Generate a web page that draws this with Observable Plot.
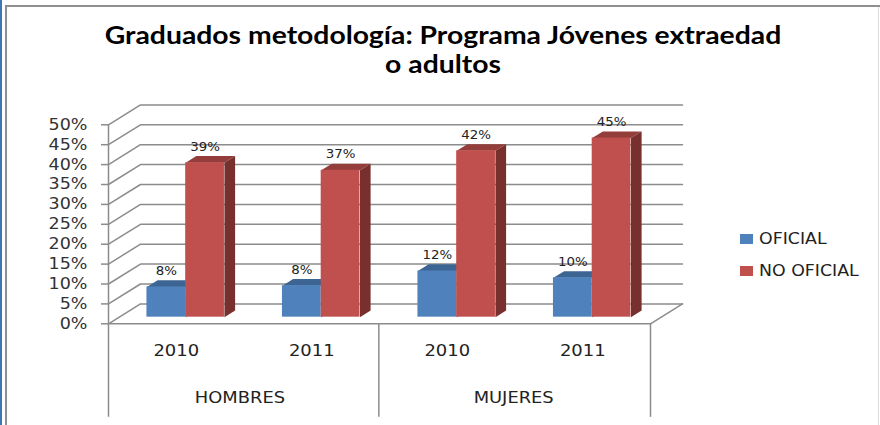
<!DOCTYPE html>
<html lang="es">
<head>
<meta charset="utf-8">
<script src="https://cdn.jsdelivr.net/npm/d3@7"></script>
<script src="https://cdn.jsdelivr.net/npm/@observablehq/plot@0.6"></script>
<style>
  html, body { margin: 0; padding: 0; background: #fff; }
  #page { position: relative; width: 880px; height: 425px; overflow: hidden; background: #fff; }
  #chart { position: absolute; left: 0; top: 0; }
  .edge { position: absolute; }
  #title { position: absolute; left: 0; top: 20px; width: 886px; margin: 0; text-align: center;
           font: 700 24px/29px Lato, sans-serif; color: #000; transform: scaleX(1.18); transform-origin: 443px 0; }
  .leg { position: absolute; left: 740px; display: flex; align-items: center; font: 15.5px "DejaVu Sans", sans-serif; color: #222; }
  .leg i { display: block; width: 13px; height: 10px; margin-right: 6px; }
  .leg span { display: block; transform: scaleX(1.12); transform-origin: 0 50%; white-space: nowrap; }
</style>
</head>
<body>
<div id="page">
  <div class="edge" style="left:0;top:0;width:2px;height:425px;background:#3f77b5"></div>
  <div class="edge" style="left:5px;top:5px;width:2px;height:420px;background:#8f8f8f"></div>
  <div class="edge" style="left:5px;top:5px;width:875px;height:2px;background:#8f8f8f"></div>
  <div class="edge" style="left:878px;top:7px;width:1px;height:418px;background:#dcdcdc"></div>
  <div id="chart"></div>
  <h1 id="title">Graduados metodología: Programa Jóvenes extraedad<br>o adultos</h1>
</div>
<script>
const years = ["2010", "2011", "2010", "2011"];
const groups = ["HOMBRES", "MUJERES"];
const seriesNames = ["OFICIAL", "NO OFICIAL"];
const oficial = [7.6, 7.9, 11.6, 9.9];
const noOficial = [38.8, 36.9, 41.8, 45.0];
const yTicks = [0, 5, 10, 15, 20, 25, 30, 35, 40, 45, 50];

const frontColors = ["#4F81BD", "#C0504D"];
const topColors = ["#3C6594", "#943E3B"];
const sideColors = ["#345880", "#77302E"];

// Oblique projection of the 3-D category chart, in data units
const depthX = 0.236, depthY = 5;
const px = (s, z) => s + z * depthX;
const py = (v, z) => v + z * depthY;
const zFront = 1 / 3, zBack = 2 / 3;
const barStart = 0.205, barW = 0.286;

const fronts = [], faces = [], labels = [];
[oficial, noOficial].forEach((vals, k) => {
  vals.forEach((v, i) => {
    const s0 = i + barStart + k * barW, s1 = s0 + barW;
    const id = `${k}-${i}`;
    fronts.push({k, x1: px(s0, zFront), x2: px(s1, zFront), y1: py(0, zFront), y2: py(v, zFront)});
    [[s0, v, zFront], [s1, v, zFront], [s1, v, zBack], [s0, v, zBack]].forEach(([s, w, z]) =>
      faces.push({id: "t" + id, c: topColors[k], k, x: px(s, z), y: py(w, z)}));
    [[s1, 0, zFront], [s1, v, zFront], [s1, v, zBack], [s1, 0, zBack]].forEach(([s, w, z]) =>
      faces.push({id: "s" + id, c: sideColors[k], k, x: px(s, z), y: py(w, z)}));
    labels.push({x: px((s0 + s1) / 2, zFront), y: py(v, zFront), t: Math.round(v) + "%"});
  });
});

const wallLines = [];
yTicks.forEach(v => {
  wallLines.push({id: "w" + v, x: px(0, 0), y: py(v, 0)}, {id: "w" + v, x: px(0, 1), y: py(v, 1)}, {id: "w" + v, x: px(4, 1), y: py(v, 1)});
});
const floorEdge = [
  {x: px(0, 0), y: py(0, 0)}, {x: px(4, 0), y: py(0, 0)}, {x: px(4, 1), y: py(0, 1)}
];

const grey = "#8c8c8c";
const font = '"DejaVu Sans", sans-serif';
const chart = Plot.plot({
  width: 880, height: 425,
  marginLeft: 108, marginRight: 230, marginTop: 124.3, marginBottom: 101.7,
  style: {background: "transparent", fontFamily: font},
  x: {domain: [0, 4]},
  y: {domain: [0, 50]},
  marks: [
    Plot.line(wallLines, {x: "x", y: "y", z: "id", stroke: grey, strokeWidth: 1.5}),
    Plot.line(floorEdge, {x: "x", y: "y", stroke: grey, strokeWidth: 1.5}),
    Plot.ruleX([0], {y1: -23.5, y2: 50, stroke: grey, strokeWidth: 1.5}),
    Plot.ruleX([1.995, 4], {y1: -23.5, y2: 0, stroke: grey, strokeWidth: 1.5}),
    Plot.axisY({ticks: yTicks, tickFormat: d => d + "%", tickSize: 7, tickPadding: 14, anchor: "left",
      label: null, fontSize: 15.5, stroke: grey, fill: "#333", strokeWidth: 1.5}),
    Plot.axisX({ticks: [0.5, 1.5, 2.5, 3.5], tickFormat: d => years[Math.floor(d)], tickSize: 0, tickPadding: 21,
      anchor: "bottom", label: null, fontSize: 15.5, fill: "#222"}),
    Plot.axisX({ticks: [0.97, 2.99], tickFormat: d => groups[d < 2 ? 0 : 1], tickSize: 0, tickPadding: 69,
      anchor: "bottom", label: null, fontSize: 15, fill: "#222"}),
    ...[0, 1].flatMap(k => [
      Plot.line(faces.filter(f => f.k === k), {x: "x", y: "y", z: "id", fill: "c", stroke: "none"}),
      Plot.rectY(fronts.filter(f => f.k === k), {x1: "x1", x2: "x2", y1: "y1", y2: "y2", fill: frontColors[k], inset: 0})
    ]),
    Plot.text(labels, {x: "x", y: "y", text: "t", dy: -16, fontSize: 12.5, fill: "#222"})
  ]
});
document.getElementById("chart").append(chart);

// The reference's lettering is stretched sideways: widen each label's glyphs to match.
chart.querySelectorAll("text").forEach(t => {
  const parent = t.closest("[aria-label]");
  const kind = parent ? parent.getAttribute("aria-label") : "";
  const s = t.textContent;
  const factor = groups.includes(s) ? 1.19 : kind.startsWith("x-axis") ? 1.16 : kind.startsWith("y-axis") ? 1.13 : 1.07;
  t.setAttribute("textLength", t.getComputedTextLength() * factor);
  t.setAttribute("lengthAdjust", "spacingAndGlyphs");
});

seriesNames.forEach((name, k) => {
  const row = document.createElement("div");
  row.className = "leg";
  row.style.top = (229 + k * 32) + "px";
  row.style.height = "20px";
  const sw = document.createElement("i");
  sw.style.background = frontColors[k];
  const label = document.createElement("span");
  label.textContent = name;
  row.append(sw, label);
  document.getElementById("page").append(row);
});
</script>
</body>
</html>
